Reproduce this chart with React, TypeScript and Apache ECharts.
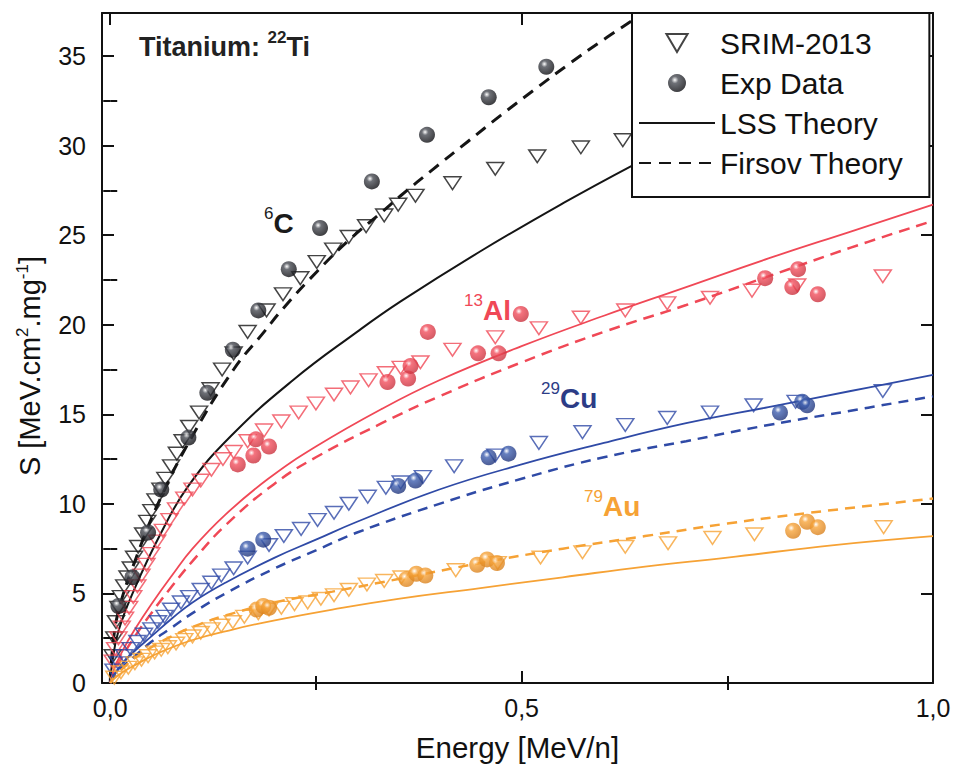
import { useEffect, useRef } from 'react';
import * as echarts from 'echarts';

const FONT = "'Liberation Sans', Arial, Helvetica, sans-serif";

// axis settings (values)
const xMin = -0.01;
const xMax = 1.0;
const yMin = 0;
const yMax = 37.4;
const xMajorTicks = [0, 0.5, 1.0];
const xMinorTicks = [0.25, 0.75];
const yMajorTicks = [0, 5, 10, 15, 20, 25, 30, 35];
const yMinorTicks = [2.5, 7.5, 12.5, 17.5, 22.5, 27.5, 32.5];

// ---- Carbon (6C) ----
const cSrim: number[][] = [
  [0.003, 1.5], [0.005, 2.5], [0.007, 3.4], [0.01, 4.2], [0.013, 4.8], [0.017, 5.4], [0.021, 5.9],
  [0.025, 6.4], [0.029, 7.0], [0.034, 7.6], [0.04, 8.3], [0.045, 9.0], [0.05, 9.6], [0.055, 10.2],
  [0.061, 10.8], [0.067, 11.4], [0.074, 12.1], [0.081, 12.8], [0.088, 13.5], [0.096, 14.3],
  [0.108, 15.1], [0.122, 16.4], [0.136, 17.5], [0.15, 18.4], [0.167, 19.6], [0.19, 20.8],
  [0.21, 21.7], [0.231, 22.6], [0.251, 23.5], [0.271, 24.2], [0.29, 24.9], [0.311, 25.5],
  [0.333, 26.1], [0.35, 26.7], [0.371, 27.2], [0.416, 27.9], [0.468, 28.7], [0.519, 29.4],
  [0.572, 29.9], [0.623, 30.3],
];
const cExp: number[][] = [
  [0.01, 4.3], [0.027, 5.9], [0.046, 8.4], [0.062, 10.8], [0.095, 13.7], [0.118, 16.2],
  [0.149, 18.6], [0.18, 20.8], [0.217, 23.1], [0.255, 25.4], [0.318, 28.0], [0.385, 30.6],
  [0.46, 32.7], [0.53, 34.4],
];
const cLss: number[][] = [
  [0, 0], [0.002, 1.0], [0.01, 2.9], [0.029, 5.2], [0.062, 8.4], [0.095, 11.0], [0.147, 13.8],
  [0.222, 16.9], [0.3, 19.6], [0.353, 21.3], [0.45, 24.1], [0.551, 26.8], [0.635, 28.9],
];
const cFirsov: number[][] = [
  [0, 0], [0.003, 2.0], [0.01, 4.0], [0.03, 6.8], [0.06, 10.2], [0.1, 13.8], [0.15, 17.5],
  [0.187, 19.6], [0.21, 20.9], [0.252, 23.0], [0.292, 24.8], [0.333, 26.4], [0.353, 27.2],
  [0.393, 28.7], [0.434, 30.2], [0.475, 31.7], [0.515, 33.1], [0.556, 34.5], [0.596, 35.8],
  [0.635, 37.0],
];

// ---- Aluminium (13Al) ----
const alSrim: number[][] = [
  [0.003, 1.2], [0.006, 1.9], [0.01, 2.5], [0.014, 3.1], [0.018, 3.6], [0.023, 4.2], [0.028, 4.8],
  [0.033, 5.4], [0.038, 6.0], [0.044, 6.6], [0.05, 7.2], [0.057, 7.9], [0.064, 8.5], [0.072, 9.1],
  [0.08, 9.7], [0.09, 10.3], [0.1, 10.8], [0.11, 11.3], [0.123, 11.9], [0.137, 12.5], [0.15, 12.9],
  [0.167, 13.5], [0.187, 14.1], [0.208, 14.6], [0.229, 15.1], [0.25, 15.6], [0.272, 16.1],
  [0.292, 16.5], [0.314, 16.9], [0.335, 17.3], [0.353, 17.6], [0.377, 17.9], [0.416, 18.6],
  [0.468, 19.3], [0.521, 19.8], [0.572, 20.4], [0.626, 20.8], [0.677, 21.2], [0.729, 21.5],
  [0.78, 21.9], [0.835, 22.2], [0.939, 22.7],
];
const alExp: number[][] = [
  [0.155, 12.2], [0.174, 12.7], [0.177, 13.6], [0.193, 13.2], [0.337, 16.8], [0.362, 17.0],
  [0.365, 17.7], [0.386, 19.6], [0.447, 18.4], [0.472, 18.4], [0.499, 20.6], [0.796, 22.6],
  [0.829, 22.1], [0.836, 23.1], [0.86, 21.7],
];
const alLss: number[][] = [
  [0, 0], [0.005, 0.8], [0.015, 1.8], [0.03, 3.0], [0.05, 4.4], [0.075, 6.0], [0.1, 7.5],
  [0.14, 9.4], [0.192, 11.4], [0.25, 13.2], [0.33, 15.3], [0.4, 16.9], [0.5, 18.8],
  [0.6, 20.5], [0.7, 22.1], [0.8, 23.7], [0.9, 25.2], [1.0, 26.7],
];
const alFirsov: number[][] = [
  [0, 0], [0.005, 0.6], [0.015, 1.5], [0.03, 2.6], [0.05, 3.9], [0.075, 5.4], [0.1, 6.8],
  [0.14, 8.8], [0.199, 11.1], [0.25, 12.6], [0.33, 14.5], [0.4, 16.0], [0.5, 17.9],
  [0.6, 19.6], [0.7, 21.1], [0.8, 22.7], [0.9, 24.3], [1.0, 25.8],
];

// ---- Copper (29Cu) ----
const cuSrim: number[][] = [
  [0.004, 0.7], [0.01, 1.1], [0.017, 1.5], [0.025, 1.9], [0.033, 2.3], [0.041, 2.7], [0.05, 3.0],
  [0.058, 3.4], [0.066, 3.7], [0.074, 4.1], [0.086, 4.5], [0.096, 4.8], [0.11, 5.2], [0.123, 5.6],
  [0.135, 6.0], [0.15, 6.4], [0.167, 7.0], [0.193, 7.7], [0.211, 8.2], [0.232, 8.6], [0.252, 9.1],
  [0.272, 9.5], [0.29, 10.0], [0.313, 10.4], [0.335, 10.9], [0.353, 11.2], [0.38, 11.5],
  [0.418, 12.1], [0.468, 12.7], [0.521, 13.4], [0.574, 14.0], [0.626, 14.4], [0.677, 14.8],
  [0.729, 15.1], [0.782, 15.5], [0.833, 15.7], [0.939, 16.3],
];
const cuExp: number[][] = [
  [0.167, 7.5], [0.186, 8.0], [0.35, 11.0], [0.371, 11.3], [0.46, 12.6], [0.484, 12.8],
  [0.814, 15.1], [0.841, 15.7], [0.847, 15.5],
];
const cuLss: number[][] = [
  [0, 0], [0.005, 0.5], [0.015, 1.1], [0.03, 1.8], [0.05, 2.6], [0.075, 3.6], [0.1, 4.5],
  [0.14, 5.6], [0.2, 7.0], [0.25, 8.0], [0.3, 9.0], [0.4, 10.8], [0.5, 12.2],
  [0.6, 13.4], [0.7, 14.5], [0.8, 15.4], [0.9, 16.3], [1.0, 17.2],
];
const cuFirsov: number[][] = [
  [0, 0], [0.005, 0.4], [0.015, 0.9], [0.03, 1.5], [0.05, 2.3], [0.075, 3.1], [0.1, 3.9],
  [0.14, 5.0], [0.2, 6.4], [0.25, 7.4], [0.3, 8.4], [0.4, 10.0], [0.5, 11.4],
  [0.6, 12.6], [0.7, 13.5], [0.8, 14.4], [0.9, 15.2], [1.0, 16.0],
];

// ---- Gold (79Au) ----
const auSrim: number[][] = [
  [0.005, 0.3], [0.013, 0.6], [0.022, 0.85], [0.03, 1.1], [0.038, 1.3], [0.046, 1.5], [0.054, 1.7],
  [0.062, 1.85], [0.07, 2.0], [0.08, 2.2], [0.09, 2.4], [0.1, 2.6], [0.11, 2.8], [0.123, 3.0],
  [0.135, 3.2], [0.149, 3.4], [0.163, 3.7], [0.18, 3.9], [0.193, 4.1], [0.208, 4.2], [0.224, 4.4],
  [0.24, 4.5], [0.256, 4.7], [0.272, 4.9], [0.29, 5.2], [0.312, 5.5], [0.333, 5.7], [0.354, 5.9],
  [0.42, 6.3], [0.471, 6.7], [0.523, 7.0], [0.574, 7.3], [0.626, 7.6], [0.678, 7.8], [0.732, 8.1],
  [0.783, 8.3], [0.94, 8.7],
];
const auExp: number[][] = [
  [0.178, 4.1], [0.186, 4.3], [0.193, 4.2], [0.36, 5.8], [0.372, 6.1], [0.383, 6.0],
  [0.446, 6.6], [0.458, 6.9], [0.47, 6.7], [0.83, 8.5], [0.847, 9.0], [0.86, 8.7],
];
const auLss: number[][] = [
  [0, 0], [0.005, 0.25], [0.015, 0.6], [0.03, 1.0], [0.06, 1.7], [0.1, 2.4], [0.15, 3.0],
  [0.2, 3.5], [0.27, 4.1], [0.35, 4.7], [0.45, 5.3], [0.55, 5.9], [0.65, 6.5],
  [0.75, 7.0], [0.88, 7.7], [1.0, 8.2],
];
const auFirsov: number[][] = [
  [0, 0], [0.005, 0.35], [0.015, 0.8], [0.03, 1.4], [0.07, 2.5], [0.11, 3.3], [0.15, 3.9],
  [0.2, 4.5], [0.27, 5.1], [0.35, 5.8], [0.45, 6.7], [0.55, 7.5], [0.65, 8.2],
  [0.75, 8.9], [0.85, 9.5], [1.0, 10.3],
];

const legendNames = ['SRIM-2013', 'Exp Data', 'LSS Theory', 'Firsov Theory'];

const COL = {
  c: '#151515',
  al: '#f04856',
  cu: '#2f4aa6',
  au: '#f6a235',
};

const TRI = 'path://M0,0 L20,0 L10,17 Z';

function ball(base: string, dark: string) {
  return {
    type: 'radial', x: 0.38, y: 0.33, r: 0.7,
    colorStops: [
      { offset: 0, color: '#ffffff' },
      { offset: 0.28, color: base },
      { offset: 1, color: dark },
    ],
  };
}

function lineS(name: string, data: number[][], color: string, dashed: boolean, width: number, dash: number[]) {
  return {
    type: 'line', name, data, symbol: 'none', showSymbol: false,
    smooth: 0.45, silent: true, z: 2,
    lineStyle: { color, width, type: dashed ? dash : 'solid' },
    itemStyle: { color, opacity: 0 },
  };
}

function srimS(data: number[][], color: string) {
  return {
    type: 'scatter', name: 'SRIM-2013', data, symbol: TRI, symbolSize: [17, 15], symbolKeepAspect: true,
    silent: true, z: 3,
    itemStyle: { color: 'rgba(255,255,255,0)', borderColor: color, borderWidth: 1.5 },
  };
}

function expS(data: number[][], base: string, dark: string) {
  return {
    type: 'scatter', name: 'Exp Data', data, symbol: 'circle', symbolSize: 16,
    silent: true, z: 4,
    itemStyle: { color: ball(base, dark) },
  };
}

function elemLabel(left: number, top: number, sup: string, main: string, color: string) {
  return {
    type: 'text', left, top, z: 20,
    style: {
      text: `{s|${sup}}{m|${main}}`,
      rich: {
        s: { fontSize: 17, fontFamily: FONT, fill: color, verticalAlign: 'top', lineHeight: 18 },
        m: { fontSize: 28, fontWeight: 'bold', fontFamily: FONT, fill: color, lineHeight: 36 },
      },
    },
  };
}

const fmt = (v: number) => v.toFixed(1).replace('.', ',');

export default function App() {
  const ref = useRef<HTMLDivElement>(null);
  useEffect(() => {
    if (!ref.current) return;
    const chart = echarts.init(ref.current, undefined, { renderer: 'svg' });
    const axisLine = { lineStyle: { color: '#111', width: 2 } };
    const tickStyle = { color: '#111', width: 2 };
    const xBase = { type: 'value', min: xMin, max: xMax, splitLine: { show: false } };
    const yBase = { type: 'value', min: yMin, max: yMax, splitLine: { show: false } };
    chart.setOption({
      animation: false,
      backgroundColor: '#ffffff',
      textStyle: { fontFamily: FONT },
      grid: { left: 102, right: 24, top: 13, bottom: 96, containLabel: false },
      xAxis: [
        {
          ...xBase, position: 'bottom',
          axisLine: { ...axisLine, onZero: false },
          axisTick: { inside: true, length: 12, lineStyle: tickStyle, customValues: xMajorTicks },
          axisLabel: { customValues: xMajorTicks, formatter: fmt, fontSize: 25, color: '#111', margin: 12, fontFamily: FONT },
          name: 'Energy [MeV/n]', nameLocation: 'middle', nameGap: 49,
          nameTextStyle: { fontSize: 29.5, color: '#111', fontFamily: FONT },
        },
        {
          ...xBase, position: 'bottom',
          axisLine: { show: false },
          axisTick: { inside: true, length: 7, lineStyle: tickStyle, customValues: xMinorTicks },
          axisLabel: { show: false },
        },
        {
          ...xBase, position: 'top',
          axisLine: { ...axisLine, onZero: false },
          axisTick: { inside: true, length: 12, lineStyle: tickStyle, customValues: xMajorTicks },
          axisLabel: { show: false },
        },
        {
          ...xBase, position: 'top',
          axisLine: { show: false },
          axisTick: { inside: true, length: 7, lineStyle: tickStyle, customValues: xMinorTicks },
          axisLabel: { show: false },
        },
      ],
      yAxis: [
        {
          ...yBase, position: 'left',
          axisLine: { ...axisLine, onZero: false },
          axisTick: { inside: true, length: 12, lineStyle: tickStyle, customValues: yMajorTicks },
          axisLabel: { customValues: yMajorTicks, fontSize: 25, color: '#111', margin: 16, fontFamily: FONT },
        },
        {
          ...yBase, position: 'left',
          axisLine: { show: false },
          axisTick: { inside: true, length: 7, lineStyle: tickStyle, customValues: yMinorTicks },
          axisLabel: { show: false },
        },
        {
          ...yBase, position: 'right',
          axisLine: { ...axisLine, onZero: false },
          axisTick: { inside: true, length: 12, lineStyle: tickStyle, customValues: yMajorTicks },
          axisLabel: { show: false },
        },
        {
          ...yBase, position: 'right',
          axisLine: { show: false },
          axisTick: { inside: true, length: 7, lineStyle: tickStyle, customValues: yMinorTicks },
          axisLabel: { show: false },
        },
      ],
      legend: {
        data: legendNames,
        orient: 'vertical', left: 632, top: 13,
        padding: [15, 26, 19, 6], itemGap: 10, itemWidth: 76, itemHeight: 18,
        backgroundColor: '#ffffff', borderColor: '#111', borderWidth: 2,
        textStyle: { fontSize: 30, color: '#111', fontFamily: FONT, lineHeight: 30 },
        selectedMode: false, z: 10,
      },
      graphic: [
        {
          type: 'text', left: 139, top: 29, z: 20,
          style: {
            text: '{m|Titanium: }{s|22}{m|Ti}',
            rich: {
              s: { fontSize: 17, fontFamily: FONT, fontWeight: 'bold', fill: '#222', verticalAlign: 'top', lineHeight: 18 },
              m: { fontSize: 27, fontWeight: 'bold', fontFamily: FONT, fill: '#222', lineHeight: 36 },
            },
          },
        },
        elemLabel(264, 205, '6', 'C', '#1a1a1a'),
        elemLabel(464, 292, '13', 'Al', COL.al),
        elemLabel(541, 380, '29', 'Cu', '#2c3c86'),
        elemLabel(584, 488, '79', 'Au', COL.au),
        {
          type: 'text', x: 30, y: 366, rotation: Math.PI / 2, z: 20,
          style: {
            text: 'S [MeV.cm{s|2}.mg{s|-1}]',
            align: 'center', verticalAlign: 'middle',
            fontSize: 29, fontFamily: FONT, fill: '#111', lineHeight: 32,
            rich: { s: { fontSize: 17, fontFamily: FONT, fill: '#111', verticalAlign: 'top', lineHeight: 18 } },
          },
        },
      ],
      series: [
        lineS('LSS Theory', cLss, COL.c, false, 2, [12, 8]),
        lineS('Firsov Theory', cFirsov, COL.c, true, 3, [12, 8]),
        lineS('LSS Theory', alLss, COL.al, false, 1.8, [11, 7]),
        lineS('Firsov Theory', alFirsov, COL.al, true, 2.5, [11, 7]),
        lineS('LSS Theory', cuLss, COL.cu, false, 1.8, [10, 7]),
        lineS('Firsov Theory', cuFirsov, COL.cu, true, 2.5, [10, 7]),
        lineS('LSS Theory', auLss, COL.au, false, 1.8, [10, 7]),
        lineS('Firsov Theory', auFirsov, COL.au, true, 2.5, [10, 7]),
        srimS(cSrim, COL.c),
        srimS(alSrim, COL.al),
        srimS(cuSrim, COL.cu),
        srimS(auSrim, COL.au),
        expS(cExp, '#4a4d55', '#0c0c10'),
        expS(alExp, '#f2505e', '#c8303c'),
        expS(cuExp, '#4060b0', '#1e3278'),
        expS(auExp, '#f7a53c', '#d8801c'),
      ],
    });
    return () => chart.dispose();
  }, []);
  return (
    <div
      ref={ref}
      style={{ position: 'fixed', left: 0, top: 0, width: 957, height: 779 }}
    />
  );
}
